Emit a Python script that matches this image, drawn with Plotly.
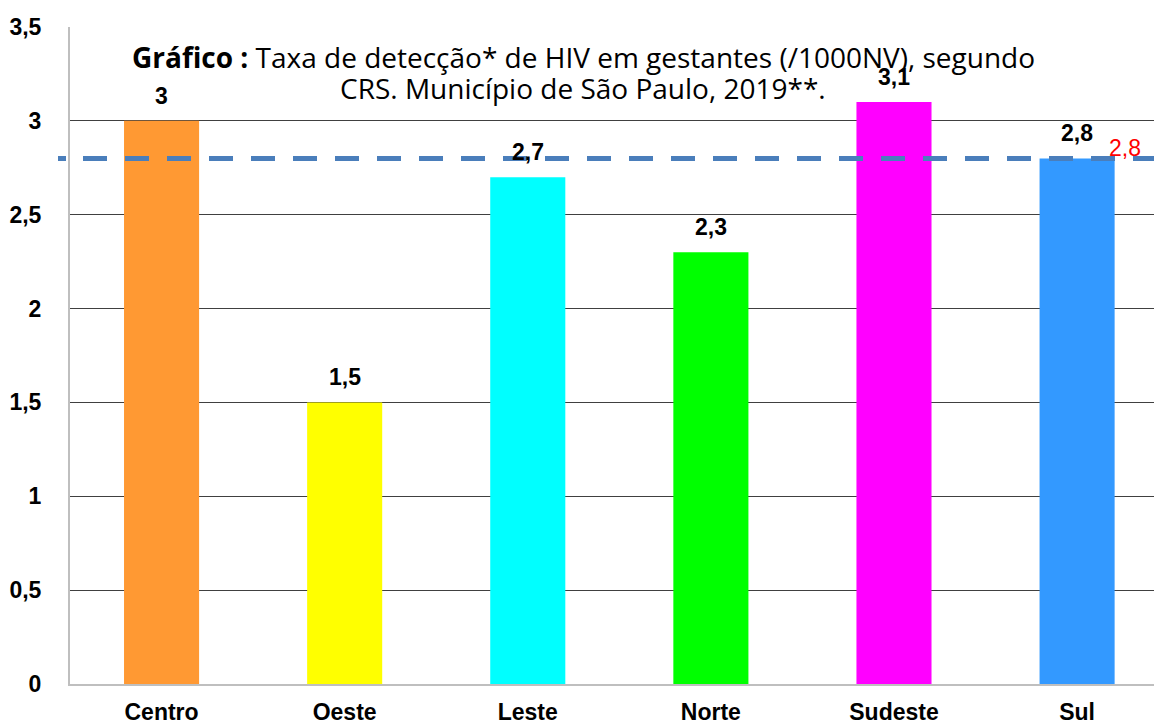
import plotly.graph_objects as go

categories = ["Centro", "Oeste", "Leste", "Norte", "Sudeste", "Sul"]
values = [3.0, 1.5, 2.7, 2.3, 3.1, 2.8]
value_labels = ["3", "1,5", "2,7", "2,3", "3,1", "2,8"]
colors = ["#FF9933", "#FFFF00", "#00FFFF", "#00FF00", "#FF00FF", "#3399FF"]
reference_value = 2.8
reference_label = "2,8"
y_ticks = [0, 0.5, 1, 1.5, 2, 2.5, 3, 3.5]
y_tick_labels = ["0", "0,5", "1", "1,5", "2", "2,5", "3", "3,5"]

W, H = 1154, 725
ML, MR, MT, MB = 70, 0, 27, 39
plot_h = H - MT - MB

fig = go.Figure()
fig.add_trace(go.Bar(
    x=list(range(len(categories))), y=values,
    marker=dict(color=colors, line=dict(width=0)),
    width=0.41,
    hoverinfo="x+y",
))

for i, (v, lab) in enumerate(zip(values, value_labels)):
    fig.add_annotation(x=i, y=v, xref="x", yref="y", text=f"<b>{lab}</b>", showarrow=False,
                       yanchor="middle", yshift=25,
                       font=dict(family="Arial", size=23, color="black"))

dash = "8px,17px," + ",".join(["24px,18px"] * 30)
fig.add_shape(type="line", xref="paper", yref="y", x0=-12 / (W - ML - MR), x1=1.0,
              y0=reference_value, y1=reference_value,
              line=dict(color="#4A7EBB", width=5, dash=dash), layer="above")

fig.add_annotation(x=5.26, y=reference_value, xref="x", yref="y", text=reference_label, showarrow=False,
                   font=dict(family="Arial", size=23, color="#FF0000"), yshift=10)

title_lines = [
    ("<b>Gráfico :</b> Taxa de detecção* de HIV em gestantes (/1000NV), segundo", 57),
    ("CRS. Município de São Paulo, 2019**.", 88),
]
for txt, py in title_lines:
    fig.add_annotation(x=(583 - ML) / (W - ML - MR), xref="paper", y=(H - MB - py) / plot_h, yref="paper",
                       yanchor="middle", showarrow=False, text=txt,
                       font=dict(family="Open Sans", size=28, color="black"))

fig.update_layout(
    width=W, height=H,
    margin=dict(l=ML, r=MR, t=MT, b=MB),
    paper_bgcolor="white", plot_bgcolor="white",
    showlegend=False,
    xaxis=dict(range=[-0.5, 5.42], tickvals=list(range(len(categories))), ticktext=categories,
               tickfont=dict(family="Arial", size=23, color="black", weight="bold"),
               showgrid=False, showline=True, linecolor="#BFBFBF", linewidth=2, ticks="",
               ticklabelstandoff=6),
    yaxis=dict(range=[0, 3.5], tickvals=y_ticks, ticktext=y_tick_labels,
               tickfont=dict(family="Arial", size=23, color="black", weight="bold"),
               showgrid=True, gridcolor="#404040", gridwidth=1,
               showline=True, linecolor="#BFBFBF", linewidth=2, ticks="", zeroline=False,
               ticklabelstandoff=22),
)

fig.write_html("out.html", config={"displayModeBar": False},
               post_script="document.body.style.margin='0';document.body.style.overflow='hidden';")
